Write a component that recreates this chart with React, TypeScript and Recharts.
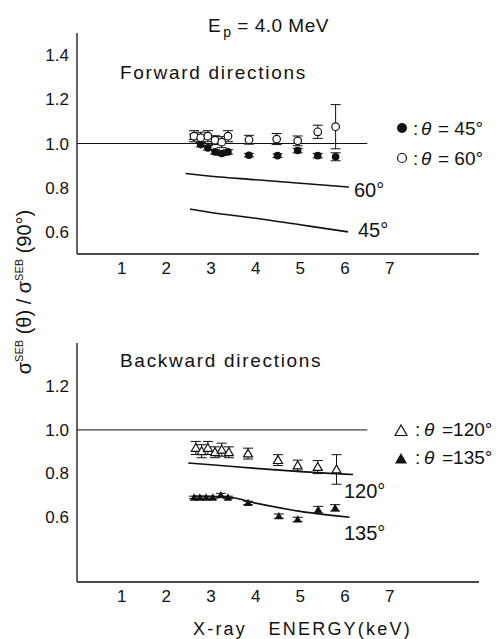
import React from 'react';
import { ComposedChart, Line, Scatter, XAxis, YAxis, ErrorBar } from 'recharts';

// forward directions (top panel)
const ENERGY_45 = [2.62, 2.77, 2.93, 3.09, 3.24, 3.38, 3.85, 4.49, 4.94, 5.39, 5.79];
const RATIO_45 = [1.03, 0.995, 0.98, 0.962, 0.955, 0.962, 0.947, 0.945, 0.968, 0.945, 0.94];
const ERR_45 = [0.012, 0.01, 0.01, 0.01, 0.01, 0.01, 0.008, 0.008, 0.01, 0.01, 0.018];
const ENERGY_60 = [2.62, 2.77, 2.93, 3.09, 3.24, 3.38, 3.85, 4.47, 4.94, 5.39, 5.79];
const RATIO_60 = [1.033, 1.026, 1.033, 1.015, 1.006, 1.033, 1.017, 1.02, 1.012, 1.053, 1.076];
const ERR_60 = [0.025, 0.025, 0.025, 0.02, 0.025, 0.025, 0.02, 0.025, 0.022, 0.03, 0.1];
const CALC_E_60 = [2.43, 3, 4, 5, 6.09];
const CALC_60 = [0.864, 0.852, 0.836, 0.82, 0.803];
const CALC_E_45 = [2.53, 3, 4, 5, 6.07];
const CALC_45 = [0.703, 0.688, 0.662, 0.632, 0.6];

// backward directions (bottom panel)
const ENERGY_120 = [2.66, 2.79, 2.93, 3.09, 3.24, 3.4, 3.83, 4.5, 4.94, 5.39, 5.81];
const RATIO_120 = [0.917, 0.902, 0.917, 0.897, 0.909, 0.897, 0.891, 0.861, 0.836, 0.829, 0.818];
const ERR_120 = [0.03, 0.03, 0.03, 0.025, 0.03, 0.025, 0.025, 0.025, 0.025, 0.03, 0.068];
const ENERGY_135 = [2.62, 2.75, 2.89, 3.04, 3.22, 3.38, 3.83, 4.52, 4.94, 5.4, 5.78];
const RATIO_135 = [0.689, 0.689, 0.689, 0.689, 0.7, 0.689, 0.664, 0.603, 0.588, 0.633, 0.641];
const ERR_135 = [0.006, 0.006, 0.006, 0.006, 0.008, 0.006, 0.008, 0.01, 0.01, 0.015, 0.015];
const CALC_E_120 = [2.49, 3, 4, 5, 6.18];
const CALC_120 = [0.848, 0.84, 0.823, 0.808, 0.795];
const CALC_E_135 = [2.6, 3.4, 4, 5, 6.1];
const CALC_135 = [0.695, 0.69, 0.663, 0.625, 0.598];

const UNITY_E = [0, 6.5];
const UNITY = [1, 1];
const X_TICKS = [1, 2, 3, 4, 5, 6, 7];
const Y_TICKS_TOP = [0.6, 0.8, 1.0, 1.2, 1.4];
const Y_TICKS_BOTTOM = [0.6, 0.8, 1.0, 1.2];

const pts = (xs: number[], ys: number[], errs?: number[]) =>
  xs.map((x, i) => ({ x, y: ys[i], err: errs ? errs[i] : 0 }));

const FONT = '"Liberation Sans", Arial, sans-serif';
const INK = '#111';

const FilledCircle = (p: any) => <circle cx={p.cx} cy={p.cy} r={3.8} fill={INK} />;
const OpenCircle = (p: any) => <circle cx={p.cx} cy={p.cy} r={3.8} fill="#fff" stroke={INK} strokeWidth={1.2} />;
const triPath = (cx: number, cy: number, s: number) =>
  `${cx},${cy - s} ${cx - s},${cy + s * 0.75} ${cx + s},${cy + s * 0.75}`;
const OpenTri = (p: any) => <polygon points={triPath(p.cx, p.cy, 4.5)} fill="#fff" stroke={INK} strokeWidth={1.2} />;
const FilledTri = (p: any) => <polygon points={triPath(p.cx, p.cy, 4.2)} fill={INK} />;

const tickStyle = { fill: INK, fontSize: 17, fontFamily: FONT };

const Panel = ({ height, top, bottom, domain, yTicks, children }: any) => (
  <ComposedChart width={496} height={height} margin={{ top, right: 17, bottom, left: 37 }}>
    <XAxis type="number" dataKey="x" domain={[0, 9]} ticks={X_TICKS} tickLine={false}
      axisLine={{ stroke: INK, strokeWidth: 1.3 }} tick={tickStyle} height={30} allowDataOverflow />
    <YAxis type="number" dataKey="y" domain={domain} ticks={yTicks} tickLine={false}
      axisLine={{ stroke: INK, strokeWidth: 1.3 }} tick={tickStyle} width={40} allowDataOverflow
      tickFormatter={(v: number) => v.toFixed(1)} />
    <Line data={pts(UNITY_E, UNITY)} dataKey="y" stroke={INK} strokeWidth={1} dot={false} isAnimationActive={false} />
    {children}
  </ComposedChart>
);

const calcLine = (xs: number[], ys: number[], key: string) => (
  <Line key={key} data={pts(xs, ys)} dataKey="y" type="monotone" stroke={INK} strokeWidth={1.6}
    dot={false} isAnimationActive={false} />
);

const series = (xs: number[], ys: number[], errs: number[], shape: any, key: string) => (
  <Scatter key={key} data={pts(xs, ys, errs)} dataKey="y" shape={shape} isAnimationActive={false}>
    <ErrorBar dataKey="err" direction="y" width={5} stroke={INK} strokeWidth={1} />
  </Scatter>
);

const Txt = ({ x, y, size = 19, children, style }: any) => (
  <div style={{ position: 'absolute', left: x, top: y - size / 2, fontSize: size, lineHeight: 1,
    whiteSpace: 'pre', color: INK, fontFamily: FONT, ...style }}>{children}</div>
);

const Sym = ({ x, y, children }: any) => (
  <svg style={{ position: 'absolute', left: x - 8, top: y - 8 }} width={16} height={16}>
    {children}
  </svg>
);

export default function App() {
  return (
    <div style={{ position: 'absolute', left: 0, top: 0, width: 496, height: 639, background: '#fff',
      fontFamily: FONT, overflow: 'hidden' }}>
      <div style={{ position: 'absolute', left: 0, top: 0 }}>
        <Panel height={290} top={33} bottom={6} domain={[0.5, 1.5]} yTicks={Y_TICKS_TOP}>
          {calcLine(CALC_E_60, CALC_60, 'c60')}
          {calcLine(CALC_E_45, CALC_45, 'c45')}
          {series(ENERGY_45, RATIO_45, ERR_45, FilledCircle, 's45')}
          {series(ENERGY_60, RATIO_60, ERR_60, OpenCircle, 's60')}
        </Panel>
      </div>
      <div style={{ position: 'absolute', left: 0, top: 320 }}>
        <Panel height={300} top={23} bottom={8} domain={[0.3, 1.4]} yTicks={Y_TICKS_BOTTOM}>
          {calcLine(CALC_E_120, CALC_120, 'c120')}
          {calcLine(CALC_E_135, CALC_135, 'c135')}
          {series(ENERGY_135, RATIO_135, ERR_135, FilledTri, 's135')}
          {series(ENERGY_120, RATIO_120, ERR_120, OpenTri, 's120')}
        </Panel>
      </div>

      {/* titles */}
      <Txt x={208} y={25} size={19} style={{ letterSpacing: 0.5 }}>
        E<span style={{ fontSize: 14, position: 'relative', top: 5, marginLeft: 2 }}>p</span>{' = 4.0 MeV'}
      </Txt>
      <Txt x={120} y={72} size={19} style={{ letterSpacing: 1.7 }}>Forward directions</Txt>
      <Txt x={120} y={360} size={19} style={{ letterSpacing: 1.7 }}>Backward directions</Txt>

      {/* curve labels */}
      <Txt x={354} y={190} size={20}>60°</Txt>
      <Txt x={358} y={230} size={20}>45°</Txt>
      <Txt x={344} y={491} size={20}>120°</Txt>
      <Txt x={344} y={533} size={20}>135°</Txt>

      {/* legends */}
      <Sym x={402} y={128}><circle cx={8} cy={8} r={5} fill={INK} /></Sym>
      <Txt x={413} y={128}>{':'}</Txt>
      <Txt x={421} y={128} style={{ fontStyle: 'italic' }}>θ</Txt>
      <Txt x={438} y={128}>{'= 45°'}</Txt>
      <Sym x={402} y={158}><circle cx={8} cy={8} r={4.5} fill="#fff" stroke={INK} strokeWidth={1.2} /></Sym>
      <Txt x={413} y={158}>{':'}</Txt>
      <Txt x={421} y={158} style={{ fontStyle: 'italic' }}>θ</Txt>
      <Txt x={438} y={158}>{'= 60°'}</Txt>

      <Sym x={401} y={430}><polygon points={triPath(8, 9, 6)} fill="#fff" stroke={INK} strokeWidth={1.2} /></Sym>
      <Txt x={415} y={429}>{':'}</Txt>
      <Txt x={424} y={429} style={{ fontStyle: 'italic' }}>θ</Txt>
      <Txt x={442} y={429}>{'=120°'}</Txt>
      <Sym x={401} y={458}><polygon points={triPath(8, 9, 6)} fill={INK} /></Sym>
      <Txt x={415} y={457}>{':'}</Txt>
      <Txt x={424} y={457} style={{ fontStyle: 'italic' }}>θ</Txt>
      <Txt x={442} y={457}>{'=135°'}</Txt>

      {/* axis titles */}
      <div style={{ position: 'absolute', left: 19 - 130, top: 292 - 12, width: 260, height: 24,
        transform: 'rotate(-90deg)', textAlign: 'center', fontSize: 20, lineHeight: '24px',
        color: INK, whiteSpace: 'pre', fontFamily: FONT }}>
        σ<sup style={{ fontSize: 11 }}>SEB</sup>{' (θ) / '}σ<sup style={{ fontSize: 11 }}>SEB</sup>{' (90°)'}
      </div>
      <Txt x={193} y={629} size={18} style={{ letterSpacing: 2.2 }}>{'X-ray   ENERGY(keV)'}</Txt>
    </div>
  );
}
